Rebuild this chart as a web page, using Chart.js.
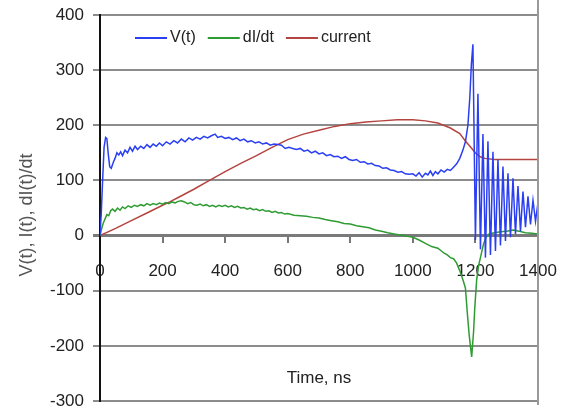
<!DOCTYPE html>
<html>
<head>
<meta charset="utf-8">
<script src="https://cdn.jsdelivr.net/npm/chart.js@4.4.1/dist/chart.umd.min.js"></script>
<style>
  html, body { margin: 0; padding: 0; background: #fff; }
  #wrap { width: 569px; height: 415px; position: relative; }
</style>
</head>
<body>
<div id="wrap"><canvas id="c"></canvas></div>
<script>
// Time axis (ns) and values
const V_T = [0,4,8,13,18,22,26,31,36,42,48,54,60,66,72,80,88,96,104,112,120,130,140,150,160,170,180,190,200,212,224,236,248,260,272,284,296,308,320,332,344,356,368,376,388,400,412,424,436,448,460,472,484,496,508,520,532,544,556,568,580,592,604,616,628,640,652,664,676,688,700,712,724,736,748,760,772,784,796,808,820,832,844,856,868,880,892,904,916,928,940,952,964,976,988,1000,1010,1020,1030,1040,1048,1056,1064,1072,1080,1090,1100,1110,1120,1130,1140,1150,1160,1168,1176,1182,1187,1192,1200,1208,1216,1224,1232,1240,1248,1256,1264,1272,1280,1288,1296,1304,1312,1320,1328,1336,1344,1352,1360,1368,1376,1384,1392,1400];
const V_VAL = [0,40,95,160,178,176,150,125,122,132,140,150,146,152,145,155,150,160,153,162,156,162,158,165,160,166,162,168,163,170,166,172,168,175,170,177,173,178,175,180,177,181,184,178,180,176,178,174,177,172,175,170,172,168,170,166,168,164,166,165,164,158,160,158,156,158,153,155,150,153,148,150,145,147,143,144,140,143,138,136,138,133,134,130,131,127,126,122,123,119,118,115,116,112,111,112,108,114,106,113,110,117,109,116,112,119,115,120,118,124,130,140,155,170,200,250,310,347,-8,257,-25,184,-40,171,-35,152,-28,138,-18,125,-10,113,-3,104,3,90,8,80,15,71,20,64,26,60];

const DI_T = [0,5,10,16,22,28,34,40,48,56,64,72,80,90,100,110,120,130,140,150,160,170,180,190,200,210,220,230,240,250,260,270,280,290,300,310,320,330,340,350,360,370,380,390,400,410,420,430,440,450,460,470,480,490,500,510,520,530,540,550,560,570,580,590,600,620,640,660,680,700,720,740,760,780,800,820,840,860,880,900,920,940,960,980,1000,1020,1040,1060,1080,1100,1110,1120,1130,1140,1150,1160,1168,1174,1180,1188,1194,1198,1204,1210,1218,1226,1234,1244,1260,1280,1300,1320,1340,1360,1380,1400];
const DI_VAL = [0,12,22,30,38,36,45,48,44,50,46,52,49,54,51,55,53,56,54,58,55,58,56,59,57,60,58,61,59,62,63,61,58,60,56,55,57,54,56,53,55,52,55,53,55,52,54,51,53,50,51,48,50,47,48,45,47,44,45,42,44,41,42,39,40,37,36,35,33,32,29,27,25,22,21,18,16,14,10,8,5,3,1,-1,-3,-8,-14,-20,-23,-32,-35,-40,-42,-50,-64,-80,-95,-140,-180,-220,-175,-130,-80,-55,-35,-15,-3,3,5,7,8,10,8,5,4,3];

const I_T = [0,50,100,150,200,223,250,300,350,400,450,500,550,600,650,700,750,800,850,900,950,1000,1040,1080,1120,1150,1170,1185,1200,1215,1230,1260,1400];
const I_VAL = [0,13,27,41,55,61,69,84,100,116,131,145,160,174,184,191,198,203,206,208,210,210,208,204,195,185,170,160,150,143,140,138,138];

const NAMES = ['V(t)', 'dI/dt', 'current'];
const COLORS = ['#2b3ff2', '#2f9c33', '#b4443f'];
const Y_TICKS = [-300, -200, -100, 0, 100, 200, 300, 400];
const X_TICKS = [0, 200, 400, 600, 800, 1000, 1200, 1400];
const Y_TITLE = 'V(t), I(t), dI(t)/dt';
const X_TITLE = 'Time, ns';

const FONT = '"Liberation Sans", Arial, sans-serif';
const pts = (t, v) => t.map((x, i) => ({ x, y: v[i] }));
const noOverflow = (s) => { s.paddingLeft = 0; s.paddingRight = 0; s.paddingTop = 0; s.paddingBottom = 0; };

// legend, axis titles and right frame line drawn on top
const extras = {
  id: 'extras',
  afterDraw(chart) {
    const { ctx, chartArea, scales } = chart;
    ctx.save();
    // right frame
    ctx.strokeStyle = '#9a9a9a';
    ctx.lineWidth = 2;
    ctx.beginPath();
    ctx.moveTo(chartArea.right, 0);
    ctx.lineTo(chartArea.right, chartArea.bottom + 4);
    ctx.stroke();

    // legend inside the plot
    ctx.font = '16px ' + FONT;
    ctx.textBaseline = 'middle';
    ctx.fillStyle = '#222';
    let x = 135;
    const y = 38;
    NAMES.forEach((n, i) => {
      ctx.strokeStyle = COLORS[i];
      ctx.lineWidth = 2;
      ctx.beginPath();
      ctx.moveTo(x, y);
      ctx.lineTo(x + 32, y);
      ctx.stroke();
      ctx.fillText(n, x + 35, y);
      x += 35 + ctx.measureText(n).width + 12;
    });

    // x title inside the plot
    ctx.font = '17px ' + FONT;
    ctx.textAlign = 'center';
    ctx.fillText(X_TITLE, scales.x.getPixelForValue(700), 378);

    // y title
    ctx.font = '18px ' + FONT;
    ctx.translate(27, 215);
    ctx.rotate(-Math.PI / 2);
    ctx.fillStyle = '#555';
    ctx.fillText(Y_TITLE, 0, 0);
    ctx.restore();
  }
};

new Chart(document.getElementById('c'), {
  type: 'line',
  data: {
    datasets: [
      { label: NAMES[0], data: pts(V_T, V_VAL), borderColor: COLORS[0] },
      { label: NAMES[1], data: pts(DI_T, DI_VAL), borderColor: COLORS[1] },
      { label: NAMES[2], data: pts(I_T, I_VAL), borderColor: COLORS[2] },
    ]
  },
  options: {
    responsive: true,
    maintainAspectRatio: false,
    animation: false,
    layout: { padding: { top: 15, right: 31, bottom: 14, left: 0 } },
    elements: { point: { radius: 0 }, line: { borderWidth: 1.5, tension: 0 } },
    plugins: { legend: { display: false }, tooltip: { enabled: false } },
    scales: {
      x: {
        type: 'linear',
        position: { y: 0 },
        min: 0, max: 1400,
        afterBuildTicks: (s) => { s.ticks = X_TICKS.map((v) => ({ value: v })); },
        afterFit: noOverflow,
        ticks: { color: '#222', font: { size: 17, family: FONT }, padding: 20, maxRotation: 0, autoSkip: false,
                 callback: (v) => String(v) },
        grid: { drawOnChartArea: false, drawTicks: true, tickLength: 6, color: '#777', lineWidth: 2 },
        border: { display: true, color: '#7a7a7a', width: 3 },
      },
      y: {
        min: -300, max: 400,
        afterBuildTicks: (s) => { s.ticks = Y_TICKS.map((v) => ({ value: v })); },
        afterFit: (s) => { s.width = 100; noOverflow(s); },
        ticks: { color: '#222', font: { size: 17, family: FONT }, padding: 9, callback: (v) => String(v) },
        grid: {
          color: (c) => (c.tick && c.tick.value === 0 ? '#7a7a7a' : '#8c8c8c'),
          lineWidth: (c) => (c.tick && c.tick.value === 0 ? 3 : 2),
          tickLength: 7,
        },
        border: { display: true, color: '#111', width: 2 },
      }
    }
  },
  plugins: [extras]
});
</script>
</body>
</html>
